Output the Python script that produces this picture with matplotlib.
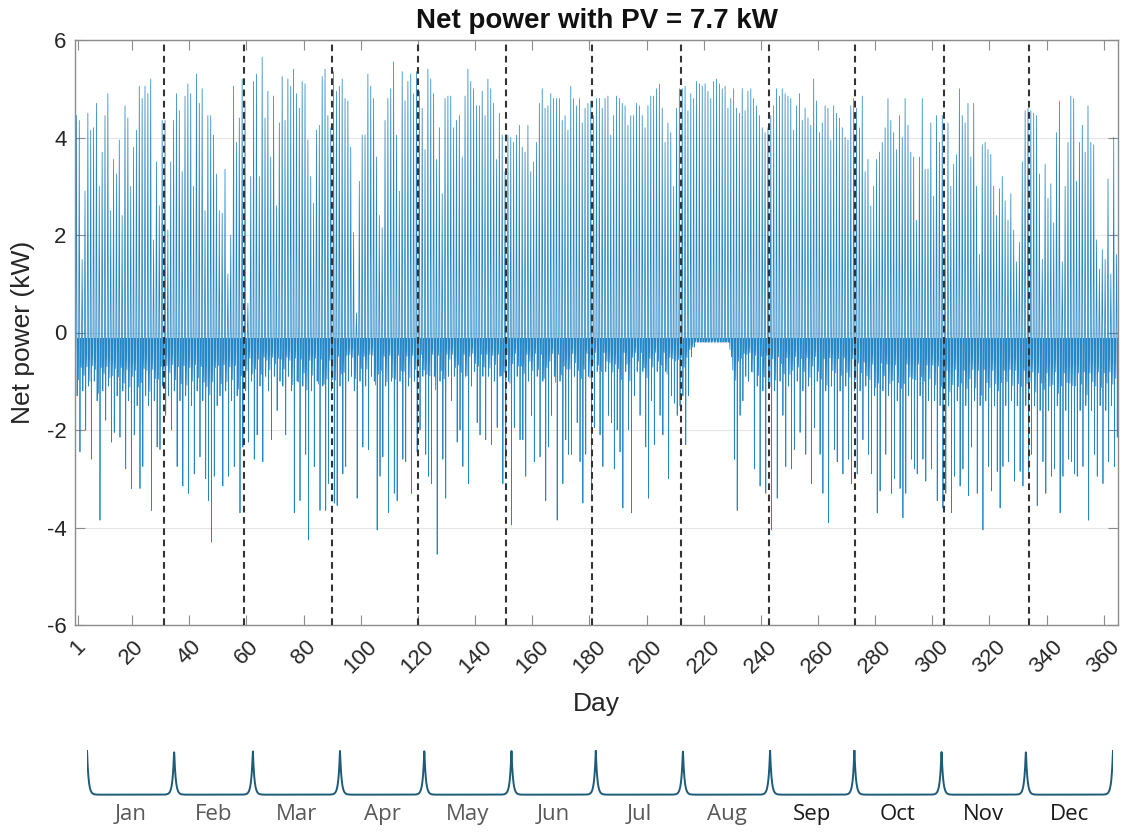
import numpy as np
import matplotlib
matplotlib.use("Agg")
import matplotlib.pyplot as plt

# ---------------- data ----------------
months = ["Jan", "Feb", "Mar", "Apr", "May", "Jun", "Jul", "Aug", "Sep", "Oct", "Nov", "Dec"]
month_days = [31, 28, 31, 30, 31, 30, 31, 31, 30, 31, 30, 31]

# daily maximum (PV export peak), kW
max_jan = [4.45, 4.35, 1.5, 2.9, 4.5, 4.15, 4.2, 4.7, 3.0, 3.7, 4.45, 4.9, 2.5, 3.55, 3.25, 3.95,
           2.4, 4.65, 4.4, 3.0, 3.8, 4.15, 5.05, 4.8, 5.05, 4.9, 5.2, 1.9, 3.5, 2.6, 4.35]
max_feb = [4.35, 2.1, 3.5, 4.35, 4.9, 4.55, 3.3, 4.85, 5.1, 4.9, 3.0, 5.3, 4.7, 5.0, 2.5, 4.45,
           4.45, 4.05, 3.25, 2.5, 2.45, 3.35, 1.2, 2.0, 5.05, 3.9, 4.4, 5.2]
max_mar = [4.75, 0.6, 3.2, 5.15, 5.3, 3.2, 5.65, 4.4, 4.95, 3.6, 4.85, 2.6, 4.3, 5.25, 4.35, 5.2,
           5.05, 5.4, 4.9, 4.6, 5.15, 5.1, 3.95, 3.2, 2.65, 4.15, 4.25, 5.25, 5.4, 4.45, 4.2]
max_apr = [5.35, 4.95, 5.05, 5.2, 4.8, 4.75, 3.8, 2.05, 0.4, 3.1, 4.05, 4.05, 5.3, 5.05, 4.8,
           3.6, 2.4, 2.15, 4.35, 4.8, 5.0, 5.55, 4.05, 2.9, 5.35, 4.75, 5.15, 5.3, 4.9, 5.35]
max_may = [4.95, 4.6, 3.75, 5.4, 5.2, 4.9, 3.55, 4.2, 2.85, 4.8, 4.85, 4.85, 4.2, 4.35, 4.45, 3.6,
           4.85, 5.4, 5.15, 5.0, 4.65, 4.65, 4.95, 4.45, 5.2, 5.0, 4.7, 3.55, 4.5, 4.05, 3.3]
max_jun = [4.05, 4.0, 3.9, 4.05, 4.25, 3.8, 3.7, 4.25, 3.3, 3.5, 3.9, 4.7, 5.0, 4.6, 4.65,
           4.9, 4.8, 4.8, 4.8, 4.35, 4.45, 4.15, 5.05, 4.8, 4.65, 4.8, 4.3, 4.6, 4.7, 4.75]
max_jul = [4.45, 4.8, 4.8, 4.6, 4.8, 4.85, 4.05, 4.45, 4.85, 4.8, 4.7, 4.65, 4.25, 4.45, 4.45, 4.7,
           4.65, 4.45, 4.2, 4.65, 4.85, 4.85, 5.0, 5.1, 4.6, 3.9, 4.3, 4.1, 3.0, 4.6, 5.0]
max_aug = [5.0, 5.05, 4.55, 4.9, 4.8, 5.15, 5.1, 5.05, 5.1, 4.95, 4.8, 5.15, 5.2, 5.1, 5.0, 5.05,
           4.6, 4.8, 5.0, 4.6, 4.5, 5.0, 4.55, 4.95, 5.0, 4.8, 4.65, 4.45, 4.2, 4.1, 4.2]
max_sep = [4.45, 4.65, 5.0, 4.85, 5.0, 4.9, 4.85, 4.8, 4.15, 4.65, 4.9, 4.35, 4.6, 4.4, 4.25,
           5.2, 4.75, 4.1, 4.3, 4.65, 4.6, 3.95, 4.65, 4.5, 4.4, 4.2, 4.0, 3.95, 4.65, 4.8]
max_oct = [4.6, 4.2, 4.85, 3.3, 3.55, 2.6, 3.0, 3.55, 3.7, 3.9, 4.2, 4.8, 4.35, 4.1, 3.75, 4.45,
           4.0, 4.8, 4.25, 3.7, 3.6, 2.3, 3.6, 4.8, 3.35, 3.35, 4.3, 2.8, 4.45, 3.9, 4.45]
max_nov = [2.0, 4.3, 3.0, 3.45, 3.65, 5.0, 4.45, 4.3, 4.7, 3.6, 4.7, 3.0, 1.6, 3.85, 3.9,
           3.75, 3.65, 3.0, 2.4, 2.95, 3.2, 2.7, 2.3, 2.85, 2.1, 1.45, 1.85, 3.5, 4.55, 4.6]
max_dec = [4.55, 4.5, 4.45, 3.25, 1.5, 3.45, 2.75, 3.05, 2.25, 4.1, 4.75, 1.45, 3.0, 3.9, 4.85, 4.8,
           3.1, 3.9, 4.25, 3.7, 4.65, 3.9, 3.85, 1.9, 1.3, 1.7, 1.5, 3.15, 1.2, 4.0, 1.6]

# daily minimum (largest import), kW
min_jan = [-1.3, -2.45, -1.2, -2.0, -1.1, -2.6, -1.0, -1.4, -3.85, -1.2, -1.8, -1.1, -2.25, -2.05, -1.3, -2.15,
           -1.2, -2.8, -1.4, -3.2, -2.1, -1.5, -3.2, -2.75, -1.3, -1.5, -3.65, -1.4, -2.35, -2.4, -1.1]
min_feb = [-1.7, -1.3, -2.0, -1.2, -2.75, -1.4, -3.15, -1.3, -3.3, -1.5, -2.9, -1.2, -2.55, -1.4, -3.0, -3.45,
           -4.3, -2.95, -1.5, -1.3, -3.15, -1.2, -2.95, -1.4, -2.75, -1.3, -3.7, -2.35]
min_mar = [-1.2, -2.25, -1.0, -2.6, -2.1, -1.1, -2.65, -0.9, -1.2, -2.2, -0.9, -1.6, -1.0, -1.1, -2.1, -0.9,
           -1.2, -3.7, -1.0, -3.45, -1.1, -2.5, -4.25, -1.2, -2.75, -1.0, -3.65, -1.1, -3.65, -3.1, -1.2]
min_apr = [-3.5, -3.55, -1.1, -2.9, -2.75, -1.0, -0.9, -1.2, -3.4, -1.0, -2.35, -1.1, -2.4, -0.9, -1.0,
           -4.05, -2.95, -2.55, -1.1, -3.7, -1.0, -3.3, -3.45, -1.0, -2.6, -2.65, -1.1, -3.3, -1.0, -2.45]
min_may = [-2.0, -0.9, -2.5, -2.95, -3.1, -0.9, -4.55, -1.0, -2.6, -3.4, -0.9, -1.4, -0.9, -2.25, -2.0, -2.75,
           -0.9, -3.1, -1.1, -0.8, -1.85, -2.1, -0.9, -2.2, -0.9, -2.3, -1.0, -1.95, -0.9, -3.1, -2.75]
min_jun = [-1.0, -3.95, -1.95, -0.9, -2.2, -2.2, -2.95, -1.0, -1.7, -2.65, -0.9, -2.55, -1.0, -3.45, -2.35,
           -1.7, -0.9, -3.85, -1.0, -3.1, -2.2, -2.5, -2.5, -0.9, -1.85, -2.65, -3.5, -2.5, -0.9, -3.4]
min_jul = [-1.95, -0.8, -2.1, -2.75, -0.8, -1.7, -1.85, -2.8, -2.0, -2.45, -3.6, -0.8, -2.0, -3.7, -1.3, -0.8,
           -1.7, -0.8, -2.35, -3.4, -1.4, -2.3, -0.8, -1.7, -2.1, -0.8, -3.0, -1.3, -1.45, -1.7, -1.5]
min_aug = [-1.3, -2.3, -1.3, -0.5, -0.3, -0.2, -0.2, -0.2, -0.2, -0.2, -0.2, -0.2, -0.2, -0.2, -0.2, -0.2,
           -0.2, -0.5, -2.6, -3.65, -1.7, -1.4, -0.9, -1.0, -0.8, -2.8, -1.1, -3.15, -1.2, -3.3, -1.1]
min_sep = [-4.05, -1.2, -3.4, -1.0, -1.7, -2.75, -1.1, -2.8, -2.4, -1.0, -2.05, -1.2, -2.5, -1.1, -3.1,
           -1.95, -1.0, -2.5, -3.3, -1.2, -3.9, -1.1, -2.4, -2.65, -1.2, -2.9, -1.1, -2.6, -3.1, -1.2]
min_oct = [-2.9, -1.2, -2.2, -1.1, -2.5, -2.9, -1.3, -3.7, -3.25, -1.2, -2.5, -1.3, -3.3, -3.0, -1.4, -3.2,
           -3.8, -3.3, -1.3, -2.6, -2.8, -2.9, -1.3, -2.6, -3.05, -1.4, -2.8, -1.4, -3.45, -1.5, -3.6]
min_nov = [-3.3, -1.5, -3.7, -2.95, -1.4, -3.15, -2.8, -1.5, -3.35, -2.35, -1.4, -3.3, -1.5, -4.05, -1.4,
           -2.75, -3.25, -1.5, -2.85, -3.6, -2.75, -1.5, -2.65, -1.4, -3.05, -1.5, -2.85, -3.15, -1.5, -2.85]
min_dec = [-2.5, -1.5, -3.55, -1.6, -2.65, -3.3, -1.6, -2.95, -2.8, -1.5, -3.7, -2.95, -1.6, -2.6, -2.65, -2.9,
           -2.95, -1.6, -2.75, -1.5, -3.85, -1.6, -2.5, -2.95, -1.5, -3.1, -1.6, -2.65, -1.5, -2.75, -2.15]

# typical load level of each month (dense band below zero), kW
band_month = [-0.8, -0.7, -0.55, -0.45, -0.45, -0.42, -0.42, -0.42, -0.5, -0.65, -0.8, -0.85]
night_base = -0.12

daily_max = np.array(max_jan + max_feb + max_mar + max_apr + max_may + max_jun +
                     max_jul + max_aug + max_sep + max_oct + max_nov + max_dec)
daily_min = np.array(min_jan + min_feb + min_mar + min_apr + min_may + min_jun +
                     min_jul + min_aug + min_sep + min_oct + min_nov + min_dec)
n_days = len(daily_max)

# ---------------- build the intraday trace ----------------
month_of_day = np.repeat(np.arange(12), month_days)[:n_days]
bm = np.array(band_month)[month_of_day]
band = np.maximum(0.6 * bm + 0.2 * daily_min, daily_min)
evening = np.maximum(0.35 * bm + 0.3 * daily_min, daily_min)
offsets = np.array([0.0, 0.20, 0.28, 0.50, 0.68, 0.74, 0.80, 0.88])
day0 = np.arange(n_days)
xs = (day0[:, None] + offsets[None, :]).ravel()
base = np.full(n_days, night_base)
ys = np.column_stack([base, band, base, daily_max, base, daily_min, evening, base]).ravel()

# ---------------- figure ----------------
W, H = 1128, 834
fig = plt.figure(figsize=(W / 100, H / 100), dpi=100)
plt.rcParams['font.family'] = ['Liberation Sans', 'DejaVu Sans']

ax = fig.add_axes([75 / W, 1 - 625 / H, (1118 - 75) / W, (625 - 40) / H])
ax.plot(xs, ys, color='#0072BD', lw=0.55, alpha=0.85, zorder=2)

bounds = np.cumsum(month_days)[:-1]
for b in bounds:
    ax.axvline(b, color='#333333', lw=1.5, ls=(0, (3.2, 2.2)), zorder=3)

ax.set_xlim(0, 365)
ax.set_ylim(-6, 6)
xt = [1] + list(range(20, 361, 20))
ax.set_xticks(xt)
ax.set_xticklabels([str(t) for t in xt], rotation=45, ha='center', fontsize=16, color='#262626')
ax.set_yticks(np.arange(-6, 7, 2))
ax.set_yticklabels([str(t) for t in range(-6, 7, 2)], fontsize=16, color='#262626')
ax.tick_params(axis='both', direction='in', length=7, width=0.8, color='#8c8c8c',
               top=True, right=True)
ax.tick_params(axis='x', pad=8)
ax.tick_params(axis='y', pad=6)
ax.yaxis.grid(True, color='#e6e6e6', lw=0.8, zorder=0)
ax.set_axisbelow(True)
for s in ax.spines.values():
    s.set_color('#8c8c8c')
    s.set_linewidth(1.0)

ax.set_title('Net power with PV = 7.7 kW', fontsize=20, fontweight='bold', pad=9, color='#111111')
ax.set_ylabel('Net power (kW)', fontsize=19, color='#262626')
ax.yaxis.set_label_coords(-0.038, 0.5)
ax.set_xlabel('Day', fontsize=19, color='#262626')
ax.xaxis.set_label_coords(0.5, -0.115)

# ---------------- month bracket strip ----------------
sx = fig.add_axes([87 / W, 1 - 796 / H, (1113 - 87) / W, (796 - 750) / H])
edges = np.concatenate([[0], np.cumsum(month_days)])
xx = np.linspace(0, 365, 6000)
yy = np.max(np.exp(-np.abs(xx[:, None] - edges[None, :]) / 0.55), axis=1)
sx.plot(xx, yy, color='#1d5b79', lw=1.4, solid_capstyle='butt')
sx.set_xlim(0, 365)
sx.set_ylim(-0.03, 1.0)
sx.axis('off')
centers = edges[:-1] + np.array(month_days) / 2
for i, (c, m) in enumerate(zip(centers, months)):
    sx.text(c, -0.45, m, ha='center', va='center', fontsize=16,
            color='#595959' if i < 8 else '#1a1a1a', family=['Open Sans', 'DejaVu Sans'],
            transform=sx.transData, clip_on=False)

fig.savefig('out.png', dpi=100)
